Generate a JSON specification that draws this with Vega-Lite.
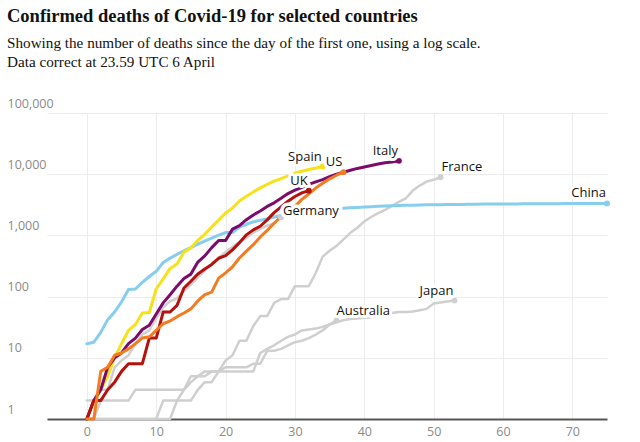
{
 "$schema": "https://vega.github.io/schema/vega-lite/v6.json",
 "width": 560, "height": 306,
 "autosize": {"type": "none"},
 "padding": {"left": 47, "top": 113, "right": 33, "bottom": 23},
 "background": "white",
 "title": {
  "text": "Confirmed deaths of Covid-19 for selected countries",
  "subtitle": ["Showing the number of deaths since the day of the first one, using a log scale.", "Data correct at 23.59 UTC 6 April"],
  "anchor": "start", "frame": "group", "dx": -40, "offset": 27,
  "font": "Liberation Serif", "fontSize": 18.5, "fontWeight": "bold", "color": "#121212",
  "subtitleFont": "Liberation Serif", "subtitleFontSize": 15.2, "subtitleColor": "#121212", "subtitleLineHeight": 19, "subtitlePadding": 10
 },
 "config": {"view": {"stroke": null}},
 "datasets": {
  "deaths": [
   {"c":"France","d":0,"v":1},{"c":"France","d":1,"v":1},{"c":"France","d":2,"v":1},{"c":"France","d":3,"v":1},{"c":"France","d":4,"v":1},{"c":"France","d":5,"v":1},{"c":"France","d":6,"v":1},{"c":"France","d":7,"v":1},{"c":"France","d":8,"v":1},{"c":"France","d":9,"v":1},{"c":"France","d":10,"v":1},{"c":"France","d":11,"v":2},{"c":"France","d":12,"v":2},{"c":"France","d":13,"v":2},{"c":"France","d":14,"v":2},{"c":"France","d":15,"v":2},{"c":"France","d":16,"v":3},{"c":"France","d":17,"v":4},{"c":"France","d":18,"v":4},{"c":"France","d":19,"v":6},{"c":"France","d":20,"v":9},{"c":"France","d":21,"v":11},{"c":"France","d":22,"v":19},{"c":"France","d":23,"v":19},{"c":"France","d":24,"v":33},{"c":"France","d":25,"v":48},{"c":"France","d":26,"v":48},{"c":"France","d":27,"v":79},{"c":"France","d":28,"v":91},{"c":"France","d":29,"v":91},{"c":"France","d":30,"v":148},{"c":"France","d":31,"v":148},{"c":"France","d":32,"v":148},{"c":"France","d":33,"v":243},{"c":"France","d":34,"v":450},{"c":"France","d":35,"v":562},{"c":"France","d":36,"v":674},{"c":"France","d":37,"v":860},{"c":"France","d":38,"v":1100},{"c":"France","d":39,"v":1333},{"c":"France","d":40,"v":1698},{"c":"France","d":41,"v":1997},{"c":"France","d":42,"v":2317},{"c":"France","d":43,"v":2611},{"c":"France","d":44,"v":3030},{"c":"France","d":45,"v":3532},{"c":"France","d":46,"v":4043},{"c":"France","d":47,"v":5398},{"c":"France","d":48,"v":6520},{"c":"France","d":49,"v":7574},{"c":"France","d":50,"v":8093},{"c":"France","d":51,"v":8926},
   {"c":"Japan","d":0,"v":1},{"c":"Japan","d":1,"v":1},{"c":"Japan","d":2,"v":1},{"c":"Japan","d":3,"v":1},{"c":"Japan","d":4,"v":1},{"c":"Japan","d":5,"v":1},{"c":"Japan","d":6,"v":1},{"c":"Japan","d":7,"v":1},{"c":"Japan","d":8,"v":1},{"c":"Japan","d":9,"v":1},{"c":"Japan","d":10,"v":1},{"c":"Japan","d":11,"v":1},{"c":"Japan","d":12,"v":1},{"c":"Japan","d":13,"v":2},{"c":"Japan","d":14,"v":3},{"c":"Japan","d":15,"v":4},{"c":"Japan","d":16,"v":5},{"c":"Japan","d":17,"v":6},{"c":"Japan","d":18,"v":6},{"c":"Japan","d":19,"v":6},{"c":"Japan","d":20,"v":6},{"c":"Japan","d":21,"v":6},{"c":"Japan","d":22,"v":6},{"c":"Japan","d":23,"v":6},{"c":"Japan","d":24,"v":6},{"c":"Japan","d":25,"v":12},{"c":"Japan","d":26,"v":14},{"c":"Japan","d":27,"v":16},{"c":"Japan","d":28,"v":19},{"c":"Japan","d":29,"v":22},{"c":"Japan","d":30,"v":24},{"c":"Japan","d":31,"v":28},{"c":"Japan","d":32,"v":29},{"c":"Japan","d":33,"v":30},{"c":"Japan","d":34,"v":32},{"c":"Japan","d":35,"v":35},{"c":"Japan","d":36,"v":38},{"c":"Japan","d":37,"v":41},{"c":"Japan","d":38,"v":43},{"c":"Japan","d":39,"v":44},{"c":"Japan","d":40,"v":45},{"c":"Japan","d":41,"v":46},{"c":"Japan","d":42,"v":49},{"c":"Japan","d":43,"v":52},{"c":"Japan","d":44,"v":54},{"c":"Japan","d":45,"v":56},{"c":"Japan","d":46,"v":56},{"c":"Japan","d":47,"v":57},{"c":"Japan","d":48,"v":60},{"c":"Japan","d":49,"v":63},{"c":"Japan","d":50,"v":77},{"c":"Japan","d":51,"v":80},{"c":"Japan","d":52,"v":83},{"c":"Japan","d":53,"v":86},
   {"c":"Australia","d":0,"v":1},{"c":"Australia","d":1,"v":1},{"c":"Australia","d":2,"v":2},{"c":"Australia","d":3,"v":2},{"c":"Australia","d":4,"v":2},{"c":"Australia","d":5,"v":2},{"c":"Australia","d":6,"v":2},{"c":"Australia","d":7,"v":3},{"c":"Australia","d":8,"v":3},{"c":"Australia","d":9,"v":3},{"c":"Australia","d":10,"v":3},{"c":"Australia","d":11,"v":3},{"c":"Australia","d":12,"v":3},{"c":"Australia","d":13,"v":3},{"c":"Australia","d":14,"v":3},{"c":"Australia","d":15,"v":5},{"c":"Australia","d":16,"v":5},{"c":"Australia","d":17,"v":5},{"c":"Australia","d":18,"v":6},{"c":"Australia","d":19,"v":6},{"c":"Australia","d":20,"v":7},{"c":"Australia","d":21,"v":7},{"c":"Australia","d":22,"v":7},{"c":"Australia","d":23,"v":7},{"c":"Australia","d":24,"v":8},{"c":"Australia","d":25,"v":8},{"c":"Australia","d":26,"v":13},{"c":"Australia","d":27,"v":13},{"c":"Australia","d":28,"v":14},{"c":"Australia","d":29,"v":16},{"c":"Australia","d":30,"v":18},{"c":"Australia","d":31,"v":19},{"c":"Australia","d":32,"v":21},{"c":"Australia","d":33,"v":24},{"c":"Australia","d":34,"v":28},{"c":"Australia","d":35,"v":35},{"c":"Australia","d":36,"v":41},
   {"c":"Germany","d":0,"v":2},{"c":"Germany","d":1,"v":2},{"c":"Germany","d":2,"v":3},{"c":"Germany","d":3,"v":3},{"c":"Germany","d":4,"v":7},{"c":"Germany","d":5,"v":9},{"c":"Germany","d":6,"v":11},{"c":"Germany","d":7,"v":17},{"c":"Germany","d":8,"v":24},{"c":"Germany","d":9,"v":28},{"c":"Germany","d":10,"v":44},{"c":"Germany","d":11,"v":67},{"c":"Germany","d":12,"v":84},{"c":"Germany","d":13,"v":94},{"c":"Germany","d":14,"v":123},{"c":"Germany","d":15,"v":157},{"c":"Germany","d":16,"v":206},{"c":"Germany","d":17,"v":267},{"c":"Germany","d":18,"v":342},{"c":"Germany","d":19,"v":433},{"c":"Germany","d":20,"v":533},{"c":"Germany","d":21,"v":645},{"c":"Germany","d":22,"v":775},{"c":"Germany","d":23,"v":920},{"c":"Germany","d":24,"v":1107},{"c":"Germany","d":25,"v":1275},{"c":"Germany","d":26,"v":1444},{"c":"Germany","d":27,"v":1584},{"c":"Germany","d":28,"v":1983},
   {"c":"China","d":0,"v":17},{"c":"China","d":1,"v":18},{"c":"China","d":2,"v":26},{"c":"China","d":3,"v":42},{"c":"China","d":4,"v":56},{"c":"China","d":5,"v":82},{"c":"China","d":6,"v":131},{"c":"China","d":7,"v":133},{"c":"China","d":8,"v":171},{"c":"China","d":9,"v":213},{"c":"China","d":10,"v":259},{"c":"China","d":11,"v":361},{"c":"China","d":12,"v":425},{"c":"China","d":13,"v":490},{"c":"China","d":14,"v":562},{"c":"China","d":15,"v":632},{"c":"China","d":16,"v":717},{"c":"China","d":17,"v":804},{"c":"China","d":18,"v":904},{"c":"China","d":19,"v":1011},{"c":"China","d":20,"v":1111},{"c":"China","d":21,"v":1116},{"c":"China","d":22,"v":1368},{"c":"China","d":23,"v":1520},{"c":"China","d":24,"v":1662},{"c":"China","d":25,"v":1765},{"c":"China","d":26,"v":1863},{"c":"China","d":27,"v":2002},{"c":"China","d":28,"v":2114},{"c":"China","d":29,"v":2236},{"c":"China","d":30,"v":2236},{"c":"China","d":31,"v":2345},{"c":"China","d":32,"v":2442},{"c":"China","d":33,"v":2592},{"c":"China","d":34,"v":2663},{"c":"China","d":35,"v":2715},{"c":"China","d":36,"v":2744},{"c":"China","d":37,"v":2788},{"c":"China","d":38,"v":2835},{"c":"China","d":39,"v":2870},{"c":"China","d":40,"v":2912},{"c":"China","d":41,"v":2945},{"c":"China","d":42,"v":2981},{"c":"China","d":43,"v":3013},{"c":"China","d":44,"v":3042},{"c":"China","d":45,"v":3070},{"c":"China","d":46,"v":3097},{"c":"China","d":47,"v":3119},{"c":"China","d":48,"v":3136},{"c":"China","d":49,"v":3158},{"c":"China","d":50,"v":3169},{"c":"China","d":51,"v":3176},{"c":"China","d":52,"v":3189},{"c":"China","d":53,"v":3199},{"c":"China","d":54,"v":3213},{"c":"China","d":55,"v":3226},{"c":"China","d":56,"v":3237},{"c":"China","d":57,"v":3245},{"c":"China","d":58,"v":3249},{"c":"China","d":59,"v":3253},{"c":"China","d":60,"v":3259},{"c":"China","d":61,"v":3274},{"c":"China","d":62,"v":3274},{"c":"China","d":63,"v":3281},{"c":"China","d":64,"v":3285},{"c":"China","d":65,"v":3291},{"c":"China","d":66,"v":3296},{"c":"China","d":67,"v":3299},{"c":"China","d":68,"v":3304},{"c":"China","d":69,"v":3308},{"c":"China","d":70,"v":3309},{"c":"China","d":71,"v":3316},{"c":"China","d":72,"v":3322},{"c":"China","d":73,"v":3326},{"c":"China","d":74,"v":3330},{"c":"China","d":75,"v":3333},
   {"c":"Spain","d":0,"v":1},{"c":"Spain","d":1,"v":2},{"c":"Spain","d":2,"v":3},{"c":"Spain","d":3,"v":5},{"c":"Spain","d":4,"v":10},{"c":"Spain","d":5,"v":17},{"c":"Spain","d":6,"v":28},{"c":"Spain","d":7,"v":35},{"c":"Spain","d":8,"v":54},{"c":"Spain","d":9,"v":55},{"c":"Spain","d":10,"v":133},{"c":"Spain","d":11,"v":195},{"c":"Spain","d":12,"v":289},{"c":"Spain","d":13,"v":342},{"c":"Spain","d":14,"v":533},{"c":"Spain","d":15,"v":623},{"c":"Spain","d":16,"v":830},{"c":"Spain","d":17,"v":1043},{"c":"Spain","d":18,"v":1375},{"c":"Spain","d":19,"v":1772},{"c":"Spain","d":20,"v":2311},{"c":"Spain","d":21,"v":2808},{"c":"Spain","d":22,"v":3647},{"c":"Spain","d":23,"v":4365},{"c":"Spain","d":24,"v":5138},{"c":"Spain","d":25,"v":5982},{"c":"Spain","d":26,"v":6803},{"c":"Spain","d":27,"v":7716},{"c":"Spain","d":28,"v":8464},{"c":"Spain","d":29,"v":9387},{"c":"Spain","d":30,"v":10348},{"c":"Spain","d":31,"v":11198},{"c":"Spain","d":32,"v":11947},{"c":"Spain","d":33,"v":12641},{"c":"Spain","d":34,"v":13341},
   {"c":"Italy","d":0,"v":1},{"c":"Italy","d":1,"v":2},{"c":"Italy","d":2,"v":3},{"c":"Italy","d":3,"v":7},{"c":"Italy","d":4,"v":10},{"c":"Italy","d":5,"v":12},{"c":"Italy","d":6,"v":17},{"c":"Italy","d":7,"v":21},{"c":"Italy","d":8,"v":29},{"c":"Italy","d":9,"v":34},{"c":"Italy","d":10,"v":52},{"c":"Italy","d":11,"v":79},{"c":"Italy","d":12,"v":107},{"c":"Italy","d":13,"v":148},{"c":"Italy","d":14,"v":197},{"c":"Italy","d":15,"v":233},{"c":"Italy","d":16,"v":366},{"c":"Italy","d":17,"v":463},{"c":"Italy","d":18,"v":631},{"c":"Italy","d":19,"v":827},{"c":"Italy","d":20,"v":827},{"c":"Italy","d":21,"v":1266},{"c":"Italy","d":22,"v":1441},{"c":"Italy","d":23,"v":1809},{"c":"Italy","d":24,"v":2158},{"c":"Italy","d":25,"v":2503},{"c":"Italy","d":26,"v":2978},{"c":"Italy","d":27,"v":3405},{"c":"Italy","d":28,"v":4032},{"c":"Italy","d":29,"v":4825},{"c":"Italy","d":30,"v":5476},{"c":"Italy","d":31,"v":6077},{"c":"Italy","d":32,"v":6820},{"c":"Italy","d":33,"v":7503},{"c":"Italy","d":34,"v":8165},{"c":"Italy","d":35,"v":9134},{"c":"Italy","d":36,"v":10023},{"c":"Italy","d":37,"v":10779},{"c":"Italy","d":38,"v":11591},{"c":"Italy","d":39,"v":12428},{"c":"Italy","d":40,"v":13155},{"c":"Italy","d":41,"v":13915},{"c":"Italy","d":42,"v":14681},{"c":"Italy","d":43,"v":15362},{"c":"Italy","d":44,"v":15887},{"c":"Italy","d":45,"v":16523},
   {"c":"UK","d":0,"v":1},{"c":"UK","d":1,"v":2},{"c":"UK","d":2,"v":2},{"c":"UK","d":3,"v":3},{"c":"UK","d":4,"v":4},{"c":"UK","d":5,"v":6},{"c":"UK","d":6,"v":8},{"c":"UK","d":7,"v":8},{"c":"UK","d":8,"v":8},{"c":"UK","d":9,"v":21},{"c":"UK","d":10,"v":21},{"c":"UK","d":11,"v":56},{"c":"UK","d":12,"v":56},{"c":"UK","d":13,"v":72},{"c":"UK","d":14,"v":138},{"c":"UK","d":15,"v":178},{"c":"UK","d":16,"v":234},{"c":"UK","d":17,"v":282},{"c":"UK","d":18,"v":336},{"c":"UK","d":19,"v":423},{"c":"UK","d":20,"v":466},{"c":"UK","d":21,"v":580},{"c":"UK","d":22,"v":761},{"c":"UK","d":23,"v":1021},{"c":"UK","d":24,"v":1231},{"c":"UK","d":25,"v":1411},{"c":"UK","d":26,"v":1793},{"c":"UK","d":27,"v":2357},{"c":"UK","d":28,"v":2926},{"c":"UK","d":29,"v":3611},{"c":"UK","d":30,"v":4320},{"c":"UK","d":31,"v":4943},{"c":"UK","d":32,"v":5385},
   {"c":"US","d":0,"v":1},{"c":"US","d":1,"v":1},{"c":"US","d":2,"v":6},{"c":"US","d":3,"v":7},{"c":"US","d":4,"v":11},{"c":"US","d":5,"v":12},{"c":"US","d":6,"v":14},{"c":"US","d":7,"v":17},{"c":"US","d":8,"v":21},{"c":"US","d":9,"v":22},{"c":"US","d":10,"v":28},{"c":"US","d":11,"v":36},{"c":"US","d":12,"v":40},{"c":"US","d":13,"v":47},{"c":"US","d":14,"v":54},{"c":"US","d":15,"v":63},{"c":"US","d":16,"v":85},{"c":"US","d":17,"v":108},{"c":"US","d":18,"v":118},{"c":"US","d":19,"v":200},{"c":"US","d":20,"v":244},{"c":"US","d":21,"v":307},{"c":"US","d":22,"v":427},{"c":"US","d":23,"v":552},{"c":"US","d":24,"v":706},{"c":"US","d":25,"v":942},{"c":"US","d":26,"v":1209},{"c":"US","d":27,"v":1581},{"c":"US","d":28,"v":2026},{"c":"US","d":29,"v":2467},{"c":"US","d":30,"v":2978},{"c":"US","d":31,"v":3873},{"c":"US","d":32,"v":4757},{"c":"US","d":33,"v":5926},{"c":"US","d":34,"v":7087},{"c":"US","d":35,"v":8407},{"c":"US","d":36,"v":9619},{"c":"US","d":37,"v":10783}
  ]
 },
 "data": {"name": "deaths"},
 "encoding": {
  "x": {"field": "d", "type": "quantitative",
   "scale": {"domain": [-5.75, 75], "nice": false, "zero": false},
   "axis": {"title": null, "values": [0,10,20,30,40,50,60,70], "grid": true, "gridColor": "#ececec", "gridWidth": 1,
    "domainColor": "#555555", "domainWidth": 2, "ticks": false, "labelPadding": 6,
    "labelFont": "Open Sans", "labelFontSize": 12.5, "labelColor": "#8a8a8a"}},
  "y": {"field": "v", "type": "quantitative",
   "scale": {"type": "log", "domain": [1, 100000], "nice": false},
   "axis": {"title": null, "values": [1,10,100,1000,10000,100000], "format": ",", "grid": true, "gridColor": "#ececec", "gridWidth": 1,
    "domain": false, "ticks": false, "labelAlign": "left", "labelPadding": 40, "labelBaseline": "bottom", "labelOffset": -3,
    "labelFont": "Open Sans", "labelFontSize": 12.5, "labelColor": "#8a8a8a"}},
  "color": {"field": "c", "type": "nominal", "legend": null,
   "scale": {"domain": ["France","Japan","Australia","Germany","China","Spain","Italy","UK","US"],
    "range": ["#cfcfcf","#cfcfcf","#cfcfcf","#cfcfcf","#86cdee","#f6e11a","#7b0c6c","#b5120f","#f47b20"]}}
 },
 "layer": [
  {"transform": [{"filter": {"field": "c", "oneOf": ["France","Japan","Australia","Germany"]}}],
   "mark": {"type": "line", "strokeWidth": 2.5, "strokeCap": "round", "strokeJoin": "round"}},
  {"transform": [{"filter": {"field": "c", "oneOf": ["China","Spain","Italy","UK","US"]}}],
   "mark": {"type": "line", "strokeWidth": 3, "strokeCap": "round", "strokeJoin": "round"}},
  {"transform": [{"joinaggregate": [{"op": "max", "field": "d", "as": "md"}], "groupby": ["c"]}, {"filter": "datum.d == datum.md"}],
   "layer": [
    {"mark": {"type": "circle", "size": 34, "opacity": 1}},
    {"transform": [{"filter": {"field": "c", "oneOf": ["Spain","US","Italy","UK","China","Japan"]}}],
     "layer": [
      {"mark": {"type": "text", "align": "right", "baseline": "bottom", "dx": -1, "dy": -3, "font": "Open Sans", "fontSize": 13, "stroke": "white", "strokeWidth": 6, "strokeJoin": "round"}, "encoding": {"text": {"field": "c"}, "color": {"value": "white"}}},
      {"mark": {"type": "text", "align": "right", "baseline": "bottom", "dx": -1, "dy": -3, "font": "Open Sans", "fontSize": 13}, "encoding": {"text": {"field": "c"}, "color": {"value": "#121212"}}}
     ]},
    {"transform": [{"filter": {"field": "c", "oneOf": ["France"]}}],
     "layer": [
      {"mark": {"type": "text", "align": "left", "baseline": "bottom", "dx": 1, "dy": -3, "font": "Open Sans", "fontSize": 13, "stroke": "white", "strokeWidth": 6, "strokeJoin": "round"}, "encoding": {"text": {"field": "c"}, "color": {"value": "white"}}},
      {"mark": {"type": "text", "align": "left", "baseline": "bottom", "dx": 1, "dy": -3, "font": "Open Sans", "fontSize": 13}, "encoding": {"text": {"field": "c"}, "color": {"value": "#121212"}}}
     ]},
    {"transform": [{"filter": {"field": "c", "oneOf": ["Australia"]}}],
     "layer": [
      {"mark": {"type": "text", "align": "left", "baseline": "bottom", "dx": 0, "dy": -2, "font": "Open Sans", "fontSize": 13, "stroke": "white", "strokeWidth": 6, "strokeJoin": "round"}, "encoding": {"text": {"field": "c"}, "color": {"value": "white"}}},
      {"mark": {"type": "text", "align": "left", "baseline": "bottom", "dx": 0, "dy": -2, "font": "Open Sans", "fontSize": 13}, "encoding": {"text": {"field": "c"}, "color": {"value": "#121212"}}}
     ]},
    {"transform": [{"filter": {"field": "c", "oneOf": ["Germany"]}}],
     "layer": [
      {"mark": {"type": "text", "align": "left", "baseline": "bottom", "dx": 2, "dy": 1, "font": "Open Sans", "fontSize": 13, "stroke": "white", "strokeWidth": 7, "strokeJoin": "round"}, "encoding": {"text": {"field": "c"}, "color": {"value": "white"}}},
      {"mark": {"type": "text", "align": "left", "baseline": "bottom", "dx": 2, "dy": 1, "font": "Open Sans", "fontSize": 13}, "encoding": {"text": {"field": "c"}, "color": {"value": "#121212"}}}
     ]}
   ]}
 ]
}
